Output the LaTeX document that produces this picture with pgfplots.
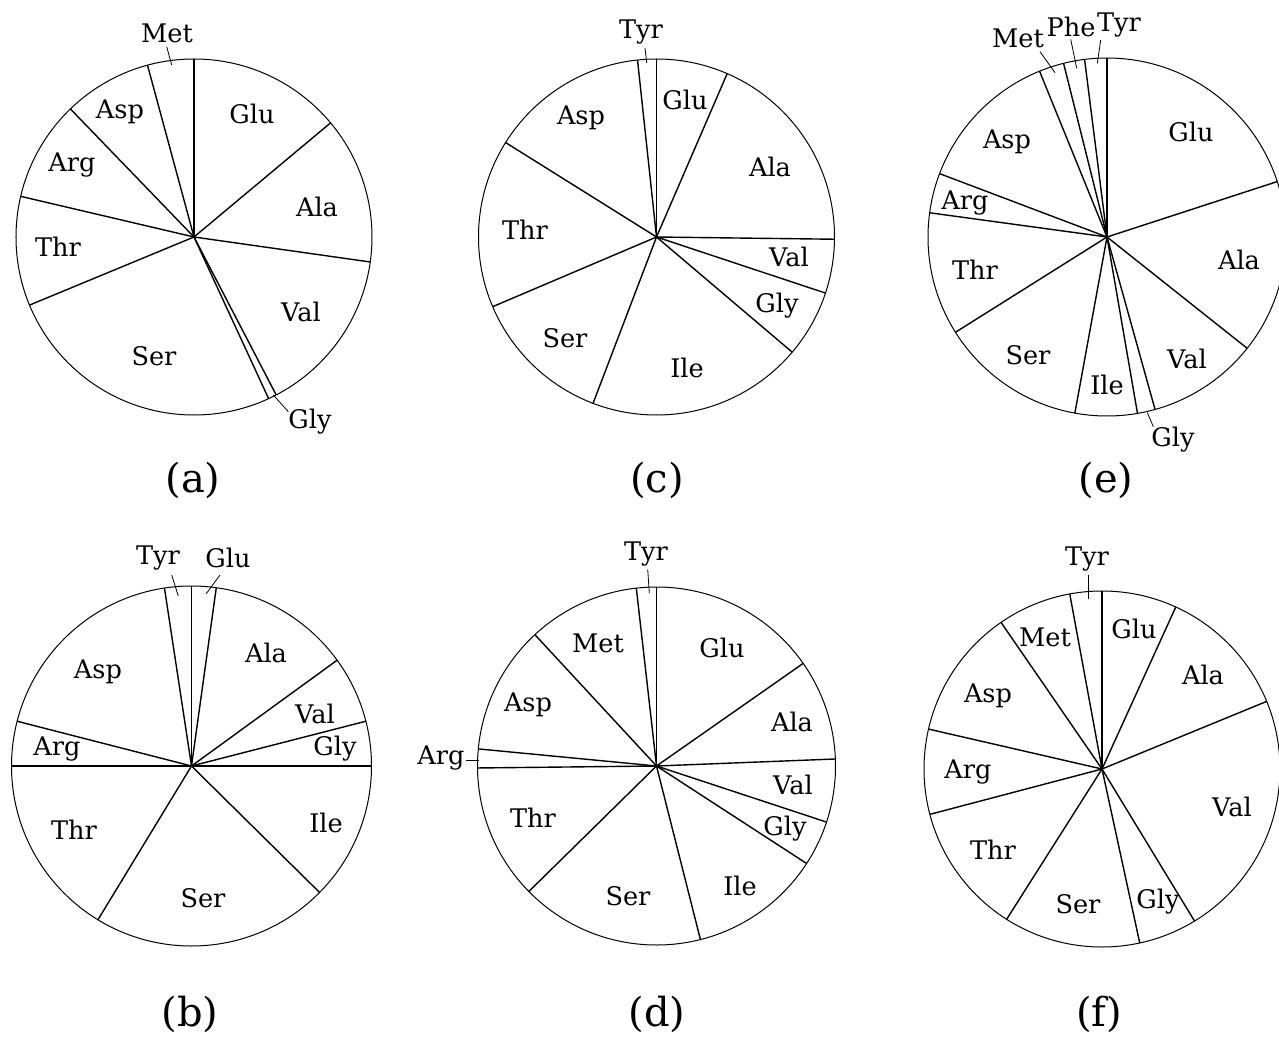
\documentclass[border=0pt]{standalone}
\usepackage{pgfplots}
\pgfplotsset{compat=1.18}
\usepackage{pgfplotstable}
\usepgfplotslibrary{polar}
\usepackage{fontspec}
\setmainfont{DejaVu Serif}

% amino-acid composition, percent of residues (clockwise from 12 o'clock)
\pgfplotstableread{
name pct
Glu 13.9
Ala 13.3
Val 15.1
Gly 0.75
Ser 25.6
Thr 9.9
Arg 9.1
Asp 8.0
Met 4.2
}\pieA
\pgfplotstableread{
name pct
Glu 2.2
Ala 12.8
Val 6.0
Gly 4.0
Ile 12.4
Ser 21.3
Thr 16.3
Arg 4.0
Asp 18.6
Tyr 2.4
}\pieB
\pgfplotstableread{
name pct
Glu 6.5
Ala 18.7
Val 4.9
Gly 6.1
Ile 19.6
Ser 12.8
Thr 15.3
Asp 14.4
Tyr 1.7
}\pieC
\pgfplotstableread{
name pct
Glu 15.3
Ala 9.1
Val 5.7
Gly 4.1
Ile 11.9
Ser 16.6
Thr 12.2
Arg 1.7
Asp 11.6
Met 10.1
Tyr 1.8
}\pieD
\pgfplotstableread{
name pct
Glu 20.0
Ala 15.7
Val 10.0
Gly 1.6
Ile 5.6
Ser 13.2
Thr 11.1
Arg 3.6
Asp 13.1
Met 2.25
Phe 1.9
Tyr 2.0
}\pieE
\pgfplotstableread{
name pct
Glu 6.8
Ala 12.0
Val 22.5
Gly 5.3
Ser 12.4
Thr 11.9
Arg 7.7
Asp 11.8
Met 6.7
Tyr 2.9
}\pieF

\pgfplotsset{radial/.style={black, line width=0.7pt}}

\newcommand\piebounds[1]{%
  \pgfplotstablegetrowsof{#1}\pgfmathtruncatemacro\nr{\pgfplotsretval-1}%
  \def\tot{0}%
  \pgfplotsforeachungrouped \i in {0,...,\nr}{%
    \pgfplotstablegetelem{\i}{pct}\of{#1}%
    \pgfmathsetmacro\tot{\tot+\pgfplotsretval}}%
  \addplot[radial] coordinates {(90,0) (90,1)};%
  \def\cum{0}%
  \pgfmathtruncatemacro\nrr{\nr-1}%
  \pgfplotsforeachungrouped \i in {0,...,\nrr}{%
    \pgfplotstablegetelem{\i}{pct}\of{#1}%
    \pgfmathsetmacro\cum{\cum+\pgfplotsretval}%
    \pgfmathsetmacro\fr{\cum/\tot}%
    \pgfmathsetmacro\ang{90-360*\fr}%
    \edef\tmp{\noexpand\addplot[radial] coordinates {(\ang,0) (\ang,1)};}\tmp}%
}

% #1 table, #2 centre x (px), #3 centre y (px, downwards), #4 radius (px); 1px = 0.5pt
\newcommand\pie[4]{%
  \pgfmathsetlengthmacro\cx{0.5pt*#2}%
  \pgfmathsetlengthmacro\cy{-0.5pt*#3}%
  \begin{polaraxis}[at={(\cx,\cy)}, anchor=center, scale only axis,
      width=#4pt, height=#4pt, xtick=\empty, ytick=\empty,
      ymin=0, ymax=1, clip=false, hide y axis,
      axis line style={black, line width=0.5pt}]
    \piebounds{#1}
  \end{polaraxis}}

\begin{document}
\begin{tikzpicture}
\pie{\pieA}{194}{237}{178}
\pie{\pieC}{656.5}{237}{178}
\pie{\pieE}{1107}{237}{179}
\pie{\pieB}{191.5}{766}{180}
\pie{\pieD}{656.5}{766}{179}
\pie{\pieF}{1102}{769}{178}

\begin{scope}[x=0.5pt, y=-0.5pt,
  lbl/.style={font=\fontsize{12.8}{15}\selectfont, inner sep=0pt},
  subcap/.style={font=\fontsize{20}{24}\selectfont, inner sep=0pt},
  lead/.style={line width=0.4pt}]
% (a)
\node[lbl] at (167,33) {Met};
\draw[lead] (171.7,65) -- (166.7,46.7);
\node[lbl] at (252,114) {Glu};
\node[lbl] at (120,112) {Asp};
\node[lbl] at (72,165) {Arg};
\node[lbl] at (317,207) {Ala};
\node[lbl] at (58,247) {Thr};
\node[lbl] at (301,312) {Val};
\node[lbl] at (154,356) {Ser};
\node[lbl] at (310,422) {Gly};
\draw[lead] (273.3,395) -- (288.3,411.7);
\node[subcap] at (193,480) {(a)};

% (c)
\node[lbl] at (641,32) {Tyr};
\draw[lead] (645,48) -- (646.7,63);
\node[lbl] at (685,100) {Glu};
\node[lbl] at (581,118) {Asp};
\node[lbl] at (770,167) {Ala};
\node[lbl] at (525,230) {Thr};
\node[lbl] at (789,257) {Val};
\node[lbl] at (777,306) {Gly};
\node[lbl] at (565,338) {Ser};
\node[lbl] at (687,368) {Ile};
\node[subcap] at (657,480) {(c)};

% (e)
\node[lbl] at (1018,38) {Met};
\node[lbl] at (1071,27) {Phe};
\node[lbl] at (1119,25) {Tyr};
\draw[lead] (1040,51.7) -- (1055,72.7);
\draw[lead] (1070.7,39.3) -- (1076.7,68.3);
\draw[lead] (1100.7,40) -- (1097.3,63.3);
\node[lbl] at (1191,132) {Glu};
\node[lbl] at (1007,142) {Asp};
\node[lbl] at (965,203) {Arg};
\node[lbl] at (1239,260) {Ala};
\node[lbl] at (975,270) {Thr};
\node[lbl] at (1187,359) {Val};
\node[lbl] at (1028,355) {Ser};
\node[lbl] at (1107,385) {Ile};
\node[lbl] at (1173,440) {Gly};
\draw[lead] (1147.3,412.7) -- (1153.3,426.7);
\node[subcap] at (1106,480) {(e)};

% (b)
\node[lbl] at (158,558) {Tyr};
\node[lbl] at (228,558) {Glu};
\draw[lead] (171.7,575) -- (178.3,596);
\draw[lead] (220,575) -- (206,594);
\node[lbl] at (266,653) {Ala};
\node[lbl] at (98,672) {Asp};
\node[lbl] at (315,714) {Val};
\node[lbl] at (335,749) {Gly};
\node[lbl] at (57,749) {Arg};
\node[lbl] at (326,823) {Ile};
\node[lbl] at (74,830) {Thr};
\node[lbl] at (203,898) {Ser};
\node[subcap] at (190,1014) {(b)};

% (d)
\node[lbl] at (646,554) {Tyr};
\draw[lead] (647.7,569.3) -- (649.3,593.3);
\node[lbl] at (598,643) {Met};
\node[lbl] at (722,648) {Glu};
\node[lbl] at (528,705) {Asp};
\node[lbl] at (792,722) {Ala};
\node[lbl] at (441,758) {Arg};
\draw[lead] (466,760) -- (479.3,760);
\node[lbl] at (793,785) {Val};
\node[lbl] at (533,818) {Thr};
\node[lbl] at (785,829) {Gly};
\node[lbl] at (740,886) {Ile};
\node[lbl] at (628,896) {Ser};
\node[subcap] at (657,1014) {(d)};

% (f)
\node[lbl] at (1087,559) {Tyr};
\draw[lead] (1088.3,575) -- (1088.3,599.3);
\node[lbl] at (1045,637) {Met};
\node[lbl] at (1134,629) {Glu};
\node[lbl] at (1203,675) {Ala};
\node[lbl] at (988,696) {Asp};
\node[lbl] at (968,772) {Arg};
\node[lbl] at (1232,807) {Val};
\node[lbl] at (993,850) {Thr};
\node[lbl] at (1078,904) {Ser};
\node[lbl] at (1158,902) {Gly};
\node[subcap] at (1099,1014) {(f)};
\end{scope}
\pgfresetboundingbox
\path[use as bounding box] (0,0) rectangle (639.5pt,-518.5pt);
\end{tikzpicture}
\end{document}
